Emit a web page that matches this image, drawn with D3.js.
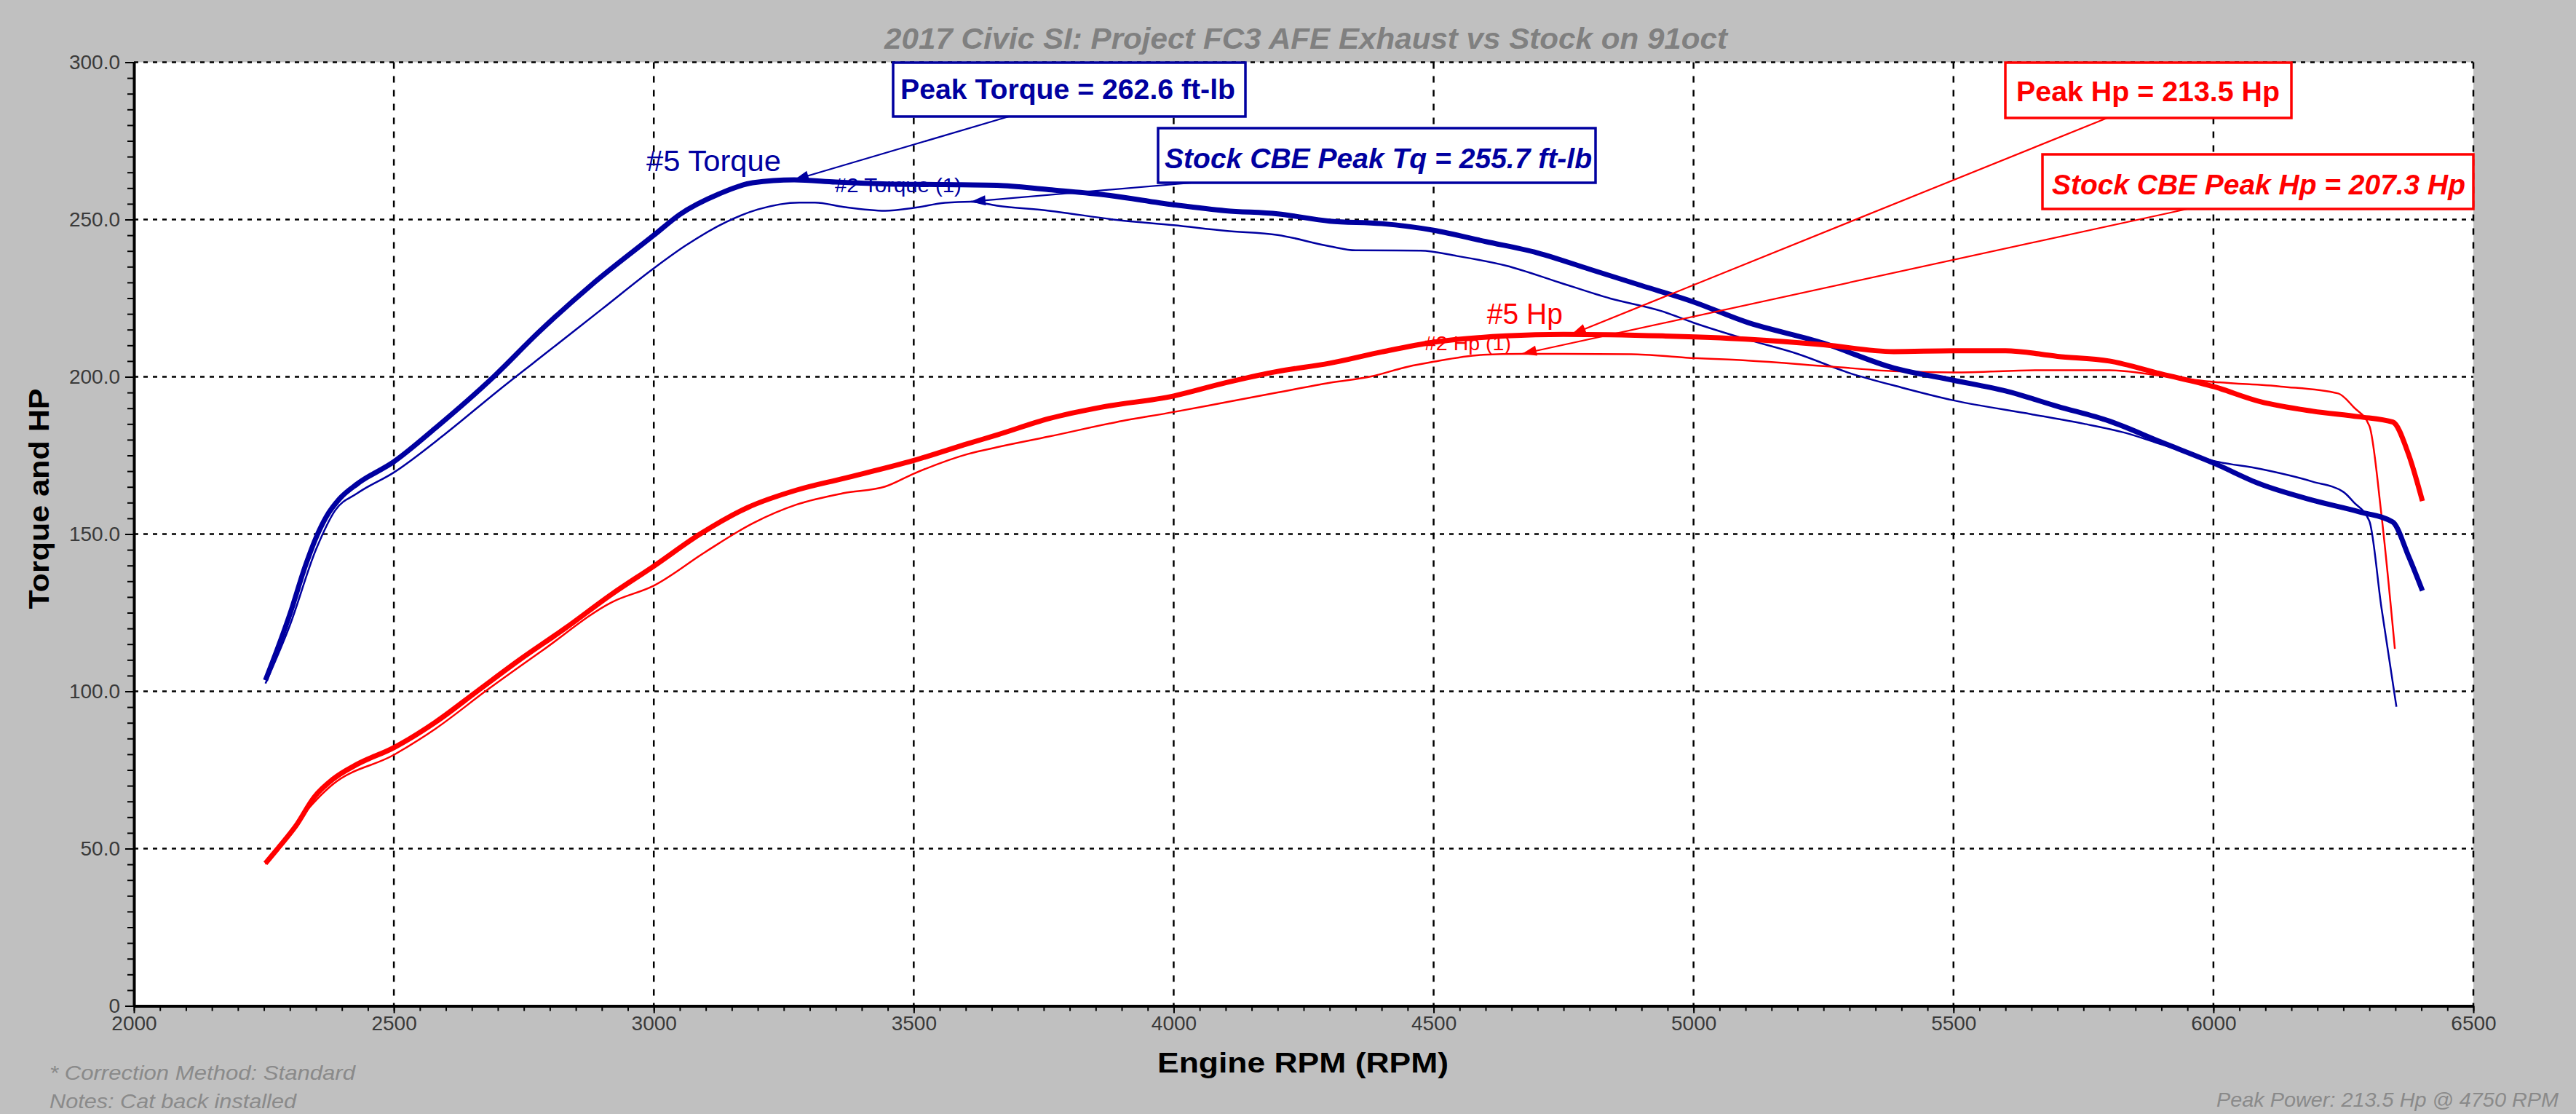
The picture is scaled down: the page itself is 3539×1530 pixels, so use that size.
<!DOCTYPE html>
<html>
<head>
<meta charset="utf-8">
<script src="https://cdn.jsdelivr.net/npm/d3@7"></script>
<style>
html, body { margin: 0; padding: 0; background: #c0c0c0; }
svg { display: block; font-family: "Liberation Sans", Arial, sans-serif; }
</style>
</head>
<body>
<script>
// ---- data ----
const tq5Rpm = [2253,2275,2300,2330,2352,2370,2396,2430,2500,2580,2690,2780,2880,3000,3050,3125,3190,3270,3350,3450,3560,3660,3760,3860,4000,4100,4200,4300,4400,4500,4600,4700,4800,4900,5000,5100,5250,5385,5500,5600,5700,5800,5900,6000,6090,6190,6280,6345,6375,6402]
const tq5 = [103.5,113,124.5,140,149.5,155.5,161.3,166,173,183.7,199.7,214.4,229.2,245,251.6,258.1,261.7,262.6,261.9,261.3,261.1,260.9,259.5,258,254.7,252.8,251.8,249.5,248.7,246.6,243,239.4,234.2,229,223.8,217.5,210.7,202.8,198.9,195.5,190.6,185.9,179.2,172.6,165.9,160.8,157.1,153.8,143.1,132]

const tqStockRpm = [2253,2300,2350,2387,2430,2500,2600,2700,2800,2900,3000,3060,3140,3200,3280,3310,3365,3445,3500,3560,3610,3660,3760,3890,4000,4100,4200,4300,4350,4475,4545,4640,4740,4840,4940,5000,5100,5200,5300,5400,5500,5650,5750,5830,5900,6000,6090,6190,6250,6270,6300,6323,6352]
const tqStock = [102.5,121,145,157.5,163,169.6,182,195.5,208.5,221.5,234.5,241.6,249.3,253.2,255.4,255.4,254,252.8,253.7,255.3,255.7,254.4,252.8,249.9,248.2,246.4,245.1,241.5,240.2,240.1,238.4,235.3,230.1,224.9,220.8,217.2,212,207.3,201.2,196.6,192.5,188.1,185.1,182.2,178.5,173.3,170.7,166.7,163.4,160.1,154.1,126.8,95.1]

const hp5Rpm = [2253,2276,2311,2347,2383,2428,2500,2580,2660,2740,2830,2920,3000,3090,3180,3275,3365,3500,3605,3660,3760,3860,4000,4100,4200,4300,4400,4500,4640,4750,4940,5100,5250,5385,5500,5600,5700,5800,5900,6000,6090,6190,6280,6345,6375,6402]
const hp5 = [45.3,49.9,57.1,66.4,72.1,76.7,82.1,90.2,100,109.8,120.1,131,139.8,150.1,158.4,164,167.7,173.4,178.8,181.5,186.7,190.3,193.9,198.1,201.7,204.3,207.9,211,213,213.5,213,212,210.2,208,208.3,208.3,206.5,205,200.9,196.9,192.1,189.1,187.3,185.6,175.5,160.5]

const hpStockRpm = [2253,2383,2500,2580,2680,2785,2920,3000,3100,3190,3275,3365,3445,3500,3605,3660,3760,3890,4000,4100,4200,4300,4380,4450,4500,4595,4670,4880,4985,5100,5260,5385,5500,5670,5800,5900,6000,6130,6240,6270,6300,6323,6349]
const hpStock = [45,70.5,79.8,88.1,100.5,112.9,128.4,133.6,144.4,153.4,159.4,163,165.1,169.2,175.5,177.6,181,185.6,188.8,191.9,195,198.1,200.1,203.2,204.8,207,207.3,207.2,206.1,205.2,203.3,201.8,201.4,202.1,202.1,200.3,198.4,196.9,194.7,190.3,184.4,156.4,113.5]

const xTicks = [2000,2500,3000,3500,4000,4500,5000,5500,6000,6500]
const yTicks = [0,50,100,150,200,250,300]

// peaks used by the callouts: [rpm, value]
const peakTq = [3270, 262.6]
const stockPeakTq = [3610, 255.7]
const peakHp = [4765, 213.5]
const stockPeakHp = [4670, 207.3]

const title = '2017 Civic SI: Project FC3 AFE Exhaust vs Stock on 91oct'
const notes = ['* Correction Method: Standard', 'Notes: Cat back installed']
const footRight = 'Peak Power: 213.5 Hp @ 4750 RPM'

const BLUE = '#0000a0', RED = '#ff0000'

window.onload = function() {
    width = 3539
    height = 1530
    const m = {left: 184, right: 3398, top: 85.5, bottom: 1381.5}

    svg = d3.select('body').append('svg')
        .attr('width', width)
        .attr('height', height)

    svg.append('rect').attr('width', width).attr('height', height).attr('fill', '#c0c0c0')

    const x = d3.scaleLinear().domain([2000, 6500]).range([m.left, m.right])
    const y = d3.scaleLinear().domain([0, 300]).range([m.bottom, m.top])

    svg.append('rect')
        .attr('x', m.left).attr('y', m.top)
        .attr('width', m.right - m.left).attr('height', m.bottom - m.top)
        .attr('fill', '#fff')

    // grid
    svg.append('g').selectAll('line')
        .data(xTicks.slice(1))
        .enter().append('line')
        .attr('x1', d => x(d)).attr('x2', d => x(d))
        .attr('y1', m.top).attr('y2', m.bottom)
        .attr('stroke', '#000').attr('stroke-width', 2.5)
        .attr('stroke-dasharray', '9 10')

    svg.append('g').selectAll('line')
        .data(yTicks.slice(1))
        .enter().append('line')
        .attr('x1', m.left).attr('x2', m.right)
        .attr('y1', d => y(d)).attr('y2', d => y(d))
        .attr('stroke', '#000').attr('stroke-width', 2.5)
        .attr('stroke-dasharray', '6 7')

    // minor ticks
    svg.append('g')
        .attr('transform', 'translate(' + m.left + ',0)')
        .call(d3.axisLeft(y).tickValues(d3.range(0, 301, 5)).tickSize(9).tickFormat(''))
        .call(g => g.select('.domain').remove())
    svg.append('g')
        .attr('transform', 'translate(0,' + m.bottom + ')')
        .call(d3.axisBottom(x).tickValues(d3.range(2000, 6501, 50)).tickSize(7).tickFormat(''))
        .call(g => g.select('.domain').remove())

    // major ticks + labels
    const yAxis = svg.append('g')
        .attr('transform', 'translate(' + m.left + ',0)')
        .call(d3.axisLeft(y).tickValues(yTicks).tickSize(12).tickSizeOuter(0).tickPadding(7)
            .tickFormat(d => d === 0 ? '0' : d.toFixed(1)))
    const xAxis = svg.append('g')
        .attr('transform', 'translate(0,' + m.bottom + ')')
        .call(d3.axisBottom(x).tickValues(xTicks).tickSize(10).tickSizeOuter(0).tickPadding(4)
            .tickFormat(d3.format('d')))

    svg.selectAll('.tick line').attr('stroke', '#000').attr('stroke-width', 2)
    ;[xAxis, yAxis].forEach(a => {
        a.select('.domain').attr('stroke', '#000').attr('stroke-width', 4)
        a.selectAll('text')
            .style('font-family', '"Liberation Sans", Arial, sans-serif')
            .style('font-size', '28px')
            .attr('fill', '#3a3a3a')
    })

    // small run labels sit under the curves
    const tipTq = [x(peakTq[0]), y(peakTq[1])]
    const tipSTq = [x(stockPeakTq[0]), y(stockPeakTq[1])]
    const tipHp = [x(peakHp[0]), y(peakHp[1])]
    const tipSHp = [x(stockPeakHp[0]), y(stockPeakHp[1])]

    svg.append('text').text('#2 Torque (1)')
        .attr('x', tipSTq[0] - 13).attr('y', tipSTq[1] - 13)
        .attr('text-anchor', 'end').attr('font-size', 28).attr('fill', BLUE)
        .attr('textLength', 174).attr('lengthAdjust', 'spacingAndGlyphs')
    svg.append('text').text('#2 Hp (1)')
        .attr('x', tipSHp[0] - 15).attr('y', tipSHp[1] - 5)
        .attr('text-anchor', 'end').attr('font-size', 28).attr('fill', RED)
        .attr('textLength', 119).attr('lengthAdjust', 'spacingAndGlyphs')

    // curves
    const line = d3.line().x(d => x(d[0])).y(d => y(d[1])).curve(d3.curveMonotoneX)
    const series = [
        {rpm: tqStockRpm, v: tqStock, color: BLUE, w: 2.5},
        {rpm: hpStockRpm, v: hpStock, color: RED, w: 2.5},
        {rpm: tq5Rpm, v: tq5, color: BLUE, w: 7},
        {rpm: hp5Rpm, v: hp5, color: RED, w: 7}
    ]
    svg.append('g').selectAll('path')
        .data(series)
        .enter().append('path')
        .attr('d', s => line(s.rpm.map((r, i) => [r, s.v[i]])))
        .attr('fill', 'none')
        .attr('stroke', s => s.color)
        .attr('stroke-width', s => s.w)
        .attr('stroke-linejoin', 'round')

    // callout boxes with leader lines
    const callouts = [
        {text: 'Peak Torque = 262.6 ft-lb', color: BLUE, italic: false, box: [1227, 86, 484, 74], tx: 1237, tw: 460, base: 136, from: [1386, 160], tip: tipTq},
        {text: 'Stock CBE Peak Tq = 255.7 ft-lb', color: BLUE, italic: true, box: [1591, 176, 601, 75], tx: 1600, tw: 587, base: 231, from: [1637, 251], tip: tipSTq},
        {text: 'Peak Hp = 213.5 Hp', color: RED, italic: false, box: [2755, 86, 393, 76], tx: 2770, tw: 362, base: 139, from: [2895, 162], tip: tipHp},
        {text: 'Stock CBE Peak Hp = 207.3 Hp', color: RED, italic: true, box: [2806, 212, 592, 75], tx: 2819, tw: 568, base: 267, from: [3005, 287], tip: tipSHp}
    ]

    const g = svg.append('g')
    callouts.forEach(c => {
        g.append('line')
            .attr('x1', c.from[0]).attr('y1', c.from[1])
            .attr('x2', c.tip[0]).attr('y2', c.tip[1])
            .attr('stroke', c.color).attr('stroke-width', 2.2)
        const ang = Math.atan2(c.from[1] - c.tip[1], c.from[0] - c.tip[0])
        const L = 20, Wd = 7
        const bx = c.tip[0] + L * Math.cos(ang), by = c.tip[1] + L * Math.sin(ang)
        g.append('path')
            .attr('d', 'M' + c.tip[0] + ',' + c.tip[1] +
                'L' + (bx - Wd * Math.sin(ang)) + ',' + (by + Wd * Math.cos(ang)) +
                'L' + (bx + Wd * Math.sin(ang)) + ',' + (by - Wd * Math.cos(ang)) + 'Z')
            .attr('fill', c.color)
        g.append('rect')
            .attr('x', c.box[0]).attr('y', c.box[1])
            .attr('width', c.box[2]).attr('height', c.box[3])
            .attr('fill', '#fff').attr('stroke', c.color).attr('stroke-width', 3.5)
        g.append('text').text(c.text)
            .attr('x', c.tx).attr('y', c.base)
            .attr('font-size', 38).attr('font-weight', 'bold')
            .attr('font-style', c.italic ? 'italic' : 'normal')
            .attr('fill', c.color)
            .attr('textLength', c.tw).attr('lengthAdjust', 'spacingAndGlyphs')
    })

    svg.append('text').text('#5 Torque')
        .attr('x', tipTq[0] - 18).attr('y', tipTq[1] - 12)
        .attr('text-anchor', 'end').attr('font-size', 40).attr('fill', BLUE)
        .attr('textLength', 185).attr('lengthAdjust', 'spacingAndGlyphs')
    svg.append('text').text('#5 Hp')
        .attr('x', tipHp[0] - 12).attr('y', tipHp[1] - 14)
        .attr('text-anchor', 'end').attr('font-size', 40).attr('fill', RED)
        .attr('textLength', 104).attr('lengthAdjust', 'spacingAndGlyphs')

    // titles and notes
    svg.append('text').text(title)
        .attr('x', (m.left + m.right) / 2 + 3).attr('y', 67)
        .attr('text-anchor', 'middle')
        .attr('font-size', 40).attr('font-weight', 'bold').attr('font-style', 'italic')
        .attr('fill', '#808080')
        .attr('textLength', 1158).attr('lengthAdjust', 'spacingAndGlyphs')

    svg.append('text').text('Torque and HP')
        .attr('transform', 'translate(67,685) rotate(-90)')
        .attr('text-anchor', 'middle')
        .attr('font-size', 38).attr('font-weight', 'bold').attr('fill', '#000')
        .attr('textLength', 303).attr('lengthAdjust', 'spacingAndGlyphs')

    svg.append('text').text('Engine RPM (RPM)')
        .attr('x', 1790).attr('y', 1473)
        .attr('text-anchor', 'middle')
        .attr('font-size', 38).attr('font-weight', 'bold').attr('fill', '#000')
        .attr('textLength', 400).attr('lengthAdjust', 'spacingAndGlyphs')

    svg.append('g').selectAll('text')
        .data(notes)
        .enter().append('text')
        .text(d => d)
        .attr('x', 68).attr('y', (d, i) => 1483 + i * 39)
        .attr('font-size', 28).attr('font-style', 'italic').attr('fill', '#8a8a8a')
        .attr('textLength', (d, i) => i === 0 ? 420 : 339)
        .attr('lengthAdjust', 'spacingAndGlyphs')

    svg.append('text').text(footRight)
        .attr('x', 3515).attr('y', 1520)
        .attr('text-anchor', 'end')
        .attr('font-size', 28).attr('font-style', 'italic').attr('fill', '#8a8a8a')
        .attr('textLength', 470).attr('lengthAdjust', 'spacingAndGlyphs')
}
</script>
</body>
</html>
